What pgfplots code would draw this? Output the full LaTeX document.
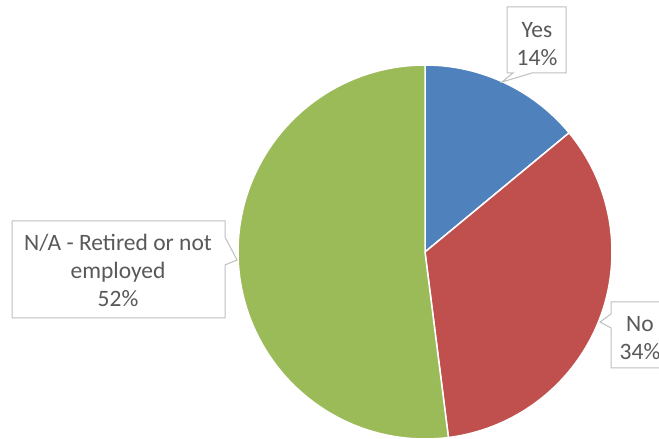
\documentclass[border=0pt]{standalone}
\usepackage{pgfplots}
\usepackage{pgfplotstable}
\usepackage{fontspec}
\setmainfont{Carlito}
\pgfplotsset{compat=1.18}
\definecolor{cYes}{HTML}{4F81BD}
\definecolor{cNo}{HTML}{C0504D}
\definecolor{cNA}{HTML}{9BBB59}
\definecolor{txt}{HTML}{595959}
\definecolor{bx}{HTML}{BFBFBF}
\pgfplotstableread{
label value
Yes 14
No 34
NA 52
}\piedata
\pgfplotstablegetelem{0}{value}\of\piedata \let\vA\pgfplotsretval
\pgfplotstablegetelem{1}{value}\of\piedata \let\vB\pgfplotsretval
\pgfplotstablegetelem{2}{value}\of\piedata \let\vC\pgfplotsretval
\pgfmathsetmacro{\aA}{90-3.6*\vA}
\pgfmathsetmacro{\aB}{\aA-3.6*\vB}
\pgfmathsetmacro{\aC}{\aB-3.6*\vC}
\begin{document}
\begin{tikzpicture}
\useasboundingbox (0,0) rectangle (659pt,439pt);
\begin{axis}[at={(0,0)}, anchor=south west, scale only axis, width=659pt, height=439pt,
  xmin=0, xmax=659, ymin=0, ymax=439, hide axis, clip=false]
\addplot[fill=cYes, draw=white, line width=1.5pt, domain=\aA:90, samples=60, variable=\t]
  ({425+187*cos(\t)},{187+187*sin(\t)}) -- (425,187) -- cycle;
\addplot[fill=cNo, draw=white, line width=1.5pt, domain=\aB:\aA, samples=80, variable=\t]
  ({425+187*cos(\t)},{187+187*sin(\t)}) -- (425,187) -- cycle;
\addplot[fill=cNA, draw=white, line width=1.5pt, domain=\aC:\aB, samples=120, variable=\t]
  ({425+187*cos(\t)},{187+187*sin(\t)}) -- (425,187) -- cycle;
% callouts
\draw[bx, fill=white, line width=1pt] (507,432) -- (566,432) -- (566,366) -- (532,366) -- (502,357) -- (513,366) -- (507,366) -- cycle;
\draw[bx, fill=white, line width=1pt] (12,218) -- (225,218) -- (225,202) -- (237,179) -- (225,174) -- (225,121) -- (12,121) -- cycle;
\draw[bx, fill=white, line width=1pt] (611,137) -- (680,137) -- (680,71) -- (611,71) -- (611,111) -- (600,117) -- (611,125) -- cycle;
\node[txt, align=center, font=\fontsize{23.5}{28}\selectfont] at (537,395) {Yes\\14\%};
\node[txt, align=center, font=\fontsize{23.5}{28}\selectfont] at (118,169) {N/A - Retired or not\\employed\\52\%};
\node[txt, align=center, font=\fontsize{23.5}{28}\selectfont] at (640,101) {No\\34\%};
\end{axis}
\end{tikzpicture}
\end{document}
